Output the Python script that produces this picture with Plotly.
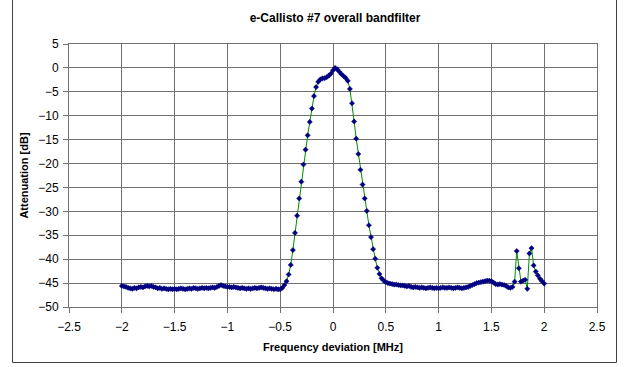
import plotly.graph_objects as go

# Frequency deviation [MHz], sampled every 0.02 MHz from -2 to 2
freq_mhz = [round(-2 + 0.02 * i, 2) for i in range(201)]

# Attenuation [dB]
atten_db = [
    -45.6, -45.7, -45.8, -46.0, -46.1, -46.2, -46.0, -46.1, -45.9, -45.8,
    -45.9, -45.7, -45.6, -45.7, -45.6, -45.8, -45.9, -46.1, -46.0, -46.2,
    -46.1, -46.2, -46.3, -46.2, -46.3, -46.2, -46.3, -46.2, -46.1, -46.2,
    -46.3, -46.2, -46.1, -46.2, -46.0, -46.1, -46.2, -46.1, -46.0, -46.1,
    -46.0, -46.1, -46.0, -45.9, -46.0, -45.8, -45.6, -45.4, -45.6, -45.7,
    -45.8, -45.8, -45.9, -45.8, -45.9, -46.0, -46.1, -46.0, -46.1, -46.2,
    -46.1, -46.2, -46.1, -46.0, -46.1, -46.0, -45.9, -46.0, -46.1, -46.2,
    -46.1, -46.2, -46.3, -46.2, -46.3, -46.3, -46.0, -45.4, -44.6, -43.2,
    -41.2, -38.1, -34.5, -30.9, -27.3, -23.8, -20.2, -17.1, -14.1, -11.3,
    -8.5, -5.9, -4.0, -2.9, -2.4, -2.2, -2.15, -1.95, -1.6, -1.2,
    -0.5, 0.0, -0.3, -0.8, -1.3, -1.7, -2.1, -2.7, -4.4, -7.4,
    -11.2, -14.8, -18.0, -21.3, -24.4, -27.3, -29.9, -32.9, -35.4, -37.9,
    -39.9, -41.8, -43.1, -44.0, -44.5, -44.8, -45.0, -45.1, -45.2, -45.3,
    -45.3, -45.4, -45.5, -45.5, -45.6, -45.7, -45.6, -45.8, -45.9, -45.8,
    -45.9, -46.0, -45.9, -46.0, -46.1, -46.0, -45.9, -46.0, -46.1, -46.0,
    -46.1, -46.0, -45.9, -46.0, -46.0, -45.9, -46.0, -46.1, -46.0, -45.9,
    -46.0, -46.1, -46.0, -45.9, -45.8, -45.6, -45.4, -45.2, -45.0, -44.9,
    -44.8, -44.7, -44.6, -44.5, -44.5, -44.6, -44.9, -45.2, -45.3, -45.2,
    -45.3, -45.4, -45.6, -45.9, -46.0, -45.8, -44.7, -38.3, -41.9, -44.7,
    -44.5, -44.3, -46.2, -38.8, -37.7, -41.3, -42.6, -43.4, -44.1, -44.6,
    -45.1,
]
assert len(freq_mhz) == len(atten_db)

title_text = "e-Callisto #7 overall bandfilter"
x_title = "Frequency deviation [MHz]"
y_title = "Attenuation [dB]"

W, H = 631, 367
L, R, T, B = 69, 34, 44, 60

fig = go.Figure()
fig.add_trace(go.Scatter(
    x=freq_mhz, y=atten_db, mode="lines+markers",
    line=dict(color="#008C00", width=1),
    marker=dict(symbol="diamond", size=4, color="#000080",
                line=dict(color="#000080", width=0.5)),
    showlegend=False,
))

pw = W - L - R
ph = H - T - B
def px_to_paper_x(px):
    return (px - L) / pw
def px_to_paper_y(py):
    return (H - B - py) / ph

fig.update_layout(
    width=W, height=H,
    margin=dict(l=L, r=R, t=T, b=B, pad=0),
    paper_bgcolor="white", plot_bgcolor="white",
    font=dict(family="Liberation Sans, Arial, sans-serif", size=12, color="black"),
    title=dict(text="<b>" + title_text + "</b>", x=px_to_paper_x(335), xref="paper",
               xanchor="center", y=1 - 18 / H, yanchor="middle",
               font=dict(size=12, color="black")),
    xaxis=dict(
        range=[-2.5, 2.5], dtick=0.5, tick0=-2.5,
        showgrid=True, gridcolor="#707070", gridwidth=1,
        zeroline=False, showline=True, linecolor="#707070", linewidth=1, mirror=True,
        ticks="outside", ticklen=5, tickcolor="#707070",
        ticklabelstandoff=4,
        title=dict(text="<b>" + x_title + "</b>", font=dict(size=11), standoff=9),
        tickfont=dict(size=12),
    ),
    yaxis=dict(
        range=[-50, 5], dtick=5, tick0=-50,
        showgrid=True, gridcolor="#707070", gridwidth=1,
        zeroline=False, showline=True, linecolor="#707070", linewidth=1, mirror=True,
        ticks="outside", ticklen=5, tickcolor="#707070",
        ticklabelstandoff=2,
        title=dict(text="<b>" + y_title + "</b>", font=dict(size=11), standoff=7),
        tickfont=dict(size=12),
    ),
    shapes=[dict(
        type="rect", xref="paper", yref="paper",
        x0=px_to_paper_x(12.5), x1=px_to_paper_x(616.5),
        y0=px_to_paper_y(362.5), y1=px_to_paper_y(-3),
        line=dict(color="#404040", width=1), fillcolor="rgba(0,0,0,0)",
        layer="below",
    )],
)

fig.write_html("out.html")
